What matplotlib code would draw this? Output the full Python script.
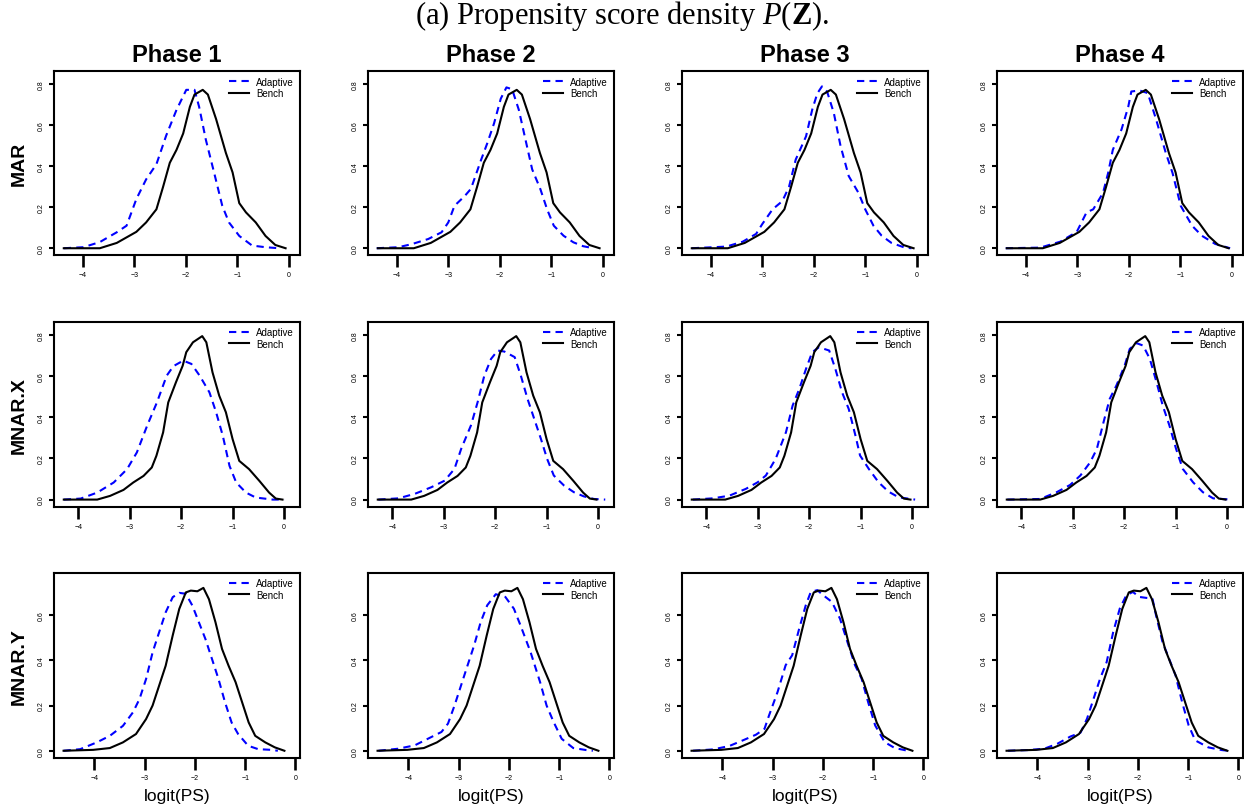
import matplotlib
matplotlib.use("Agg")
import matplotlib.pyplot as plt

plt.rcParams['font.family'] = ['Liberation Sans', 'DejaVu Sans']
plt.rcParams['mathtext.fontset'] = 'custom'
plt.rcParams['mathtext.rm'] = 'Liberation Serif'
plt.rcParams['mathtext.it'] = 'Liberation Serif:italic'
plt.rcParams['mathtext.bf'] = 'Liberation Serif:bold'

phases = ["Phase 1", "Phase 2", "Phase 3", "Phase 4"]
rows = ["MAR", "MNAR.X", "MNAR.Y"]

# Bench densities (same in every phase of a row)
bench_mar_x = [-4.37, -3.67, -3.34, -3.15, -2.96, -2.77, -2.57, -2.44, -2.31, -2.18, -2.05, -1.92,
               -1.83, -1.67, -1.57, -1.41, -1.22, -1.09, -0.96, -0.83, -0.64, -0.45, -0.26, -0.06]
bench_mar_y = [0.0, 0.0, 0.026, 0.053, 0.08, 0.126, 0.19, 0.30, 0.417, 0.48, 0.56, 0.69,
               0.75, 0.773, 0.75, 0.63, 0.465, 0.37, 0.22, 0.175, 0.126, 0.06, 0.016, 0.0]

bench_mnx_x = [-4.28, -3.63, -3.38, -3.12, -2.93, -2.73, -2.57, -2.48, -2.35, -2.25, -2.10, -1.97, -1.90,
               -1.77, -1.59, -1.51, -1.39, -1.26, -1.13, -1.0, -0.87, -0.68, -0.48, -0.29, -0.16, -0.03]
bench_mnx_y = [0.0, 0.0, 0.018, 0.047, 0.083, 0.115, 0.156, 0.213, 0.326, 0.472, 0.57, 0.65, 0.716,
               0.764, 0.794, 0.764, 0.618, 0.505, 0.424, 0.294, 0.188, 0.148, 0.091, 0.034, 0.005, 0.0]

bench_mny_x = [-4.61, -4.02, -3.69, -3.43, -3.17, -2.97, -2.84, -2.71, -2.58, -2.44, -2.31, -2.18, -2.08,
               -1.95, -1.83, -1.72, -1.59, -1.46, -1.33, -1.19, -1.06, -0.93, -0.80, -0.60, -0.41, -0.22]
bench_mny_y = [0.0, 0.004, 0.012, 0.037, 0.074, 0.14, 0.20, 0.288, 0.376, 0.51, 0.627, 0.70, 0.708,
               0.705, 0.72, 0.67, 0.568, 0.45, 0.376, 0.303, 0.214, 0.125, 0.066, 0.037, 0.015, 0.0]

# Adaptive densities, one list per phase
adapt_mar_x = [
    [-4.37, -3.99, -3.67, -3.34, -3.15, -2.96, -2.77, -2.57, -2.38, -2.18, -1.99, -1.83, -1.74,
     -1.61, -1.45, -1.29, -1.16, -0.96, -0.71, -0.45, -0.19],
    [-4.39, -3.97, -3.71, -3.39, -3.13, -3.0, -2.88, -2.68, -2.56, -2.36, -2.24, -2.11, -1.98,
     -1.87, -1.76, -1.63, -1.50, -1.37, -1.21, -1.08, -0.95, -0.76, -0.57, -0.38, -0.18],
    [-4.37, -3.70, -3.38, -3.12, -3.0, -2.80, -2.61, -2.48, -2.35, -2.15, -2.03, -1.93, -1.84,
     -1.74, -1.61, -1.48, -1.32, -1.13, -1.0, -0.84, -0.68, -0.49, -0.23, -0.10],
    [-4.39, -3.72, -3.33, -3.01, -2.82, -2.69, -2.50, -2.40, -2.31, -2.14, -2.01, -1.95, -1.79,
     -1.63, -1.47, -1.28, -1.15, -0.99, -0.77, -0.58, -0.32, -0.03],
]
adapt_mar_y = [
    [0.0, 0.005, 0.03, 0.078, 0.11, 0.24, 0.336, 0.41, 0.55, 0.675, 0.773, 0.773, 0.69,
     0.53, 0.37, 0.207, 0.126, 0.06, 0.013, 0.005, 0.0],
    [0.0, 0.005, 0.02, 0.045, 0.078, 0.126, 0.207, 0.255, 0.29, 0.433, 0.514, 0.61, 0.73,
     0.785, 0.776, 0.676, 0.53, 0.385, 0.288, 0.19, 0.11, 0.061, 0.029, 0.01, 0.0],
    [0.0, 0.008, 0.032, 0.07, 0.118, 0.19, 0.23, 0.30, 0.433, 0.546, 0.676, 0.756, 0.79,
     0.764, 0.66, 0.50, 0.352, 0.27, 0.19, 0.11, 0.061, 0.026, 0.003, 0.0],
    [0.0, 0.003, 0.032, 0.08, 0.175, 0.19, 0.27, 0.368, 0.48, 0.58, 0.69, 0.765, 0.77,
     0.757, 0.63, 0.465, 0.368, 0.207, 0.11, 0.061, 0.021, 0.0],
]

adapt_mnx_x = [
    [-4.28, -3.95, -3.63, -3.31, -3.05, -2.86, -2.66, -2.47, -2.28, -2.15, -1.96, -1.80, -1.64,
     -1.45, -1.32, -1.19, -1.06, -0.93, -0.74, -0.55, -0.22, 0.0],
    [-4.27, -3.88, -3.56, -3.24, -2.98, -2.79, -2.66, -2.47, -2.34, -2.21, -2.08, -1.95, -1.82,
     -1.62, -1.50, -1.37, -1.24, -1.11, -0.99, -0.86, -0.66, -0.47, -0.28, -0.08, 0.14],
    [-4.26, -3.87, -3.55, -3.23, -3.0, -2.84, -2.65, -2.45, -2.32, -2.19, -2.06, -1.94, -1.81,
     -1.61, -1.49, -1.36, -1.23, -1.10, -1.01, -0.84, -0.65, -0.46, -0.26, 0.06],
    [-4.27, -3.63, -3.31, -3.05, -2.85, -2.66, -2.53, -2.40, -2.28, -2.15, -1.99, -1.89, -1.76,
     -1.63, -1.50, -1.37, -1.25, -1.12, -0.99, -0.86, -0.66, -0.47, -0.27, 0.08],
]
adapt_mnx_y = [
    [0.0, 0.005, 0.034, 0.083, 0.148, 0.229, 0.359, 0.472, 0.602, 0.648, 0.675, 0.659, 0.602,
     0.521, 0.424, 0.31, 0.164, 0.083, 0.034, 0.01, 0.0, 0.0],
    [0.0, 0.006, 0.028, 0.06, 0.092, 0.149, 0.246, 0.36, 0.473, 0.602, 0.683, 0.724, 0.719,
     0.692, 0.602, 0.489, 0.392, 0.295, 0.198, 0.117, 0.068, 0.036, 0.016, 0.003, 0.0],
    [0.0, 0.006, 0.019, 0.052, 0.084, 0.117, 0.198, 0.327, 0.457, 0.538, 0.635, 0.716, 0.74,
     0.724, 0.635, 0.521, 0.44, 0.311, 0.214, 0.149, 0.084, 0.039, 0.011, 0.0],
    [0.0, 0.003, 0.036, 0.071, 0.117, 0.181, 0.246, 0.376, 0.489, 0.554, 0.651, 0.732, 0.76,
     0.748, 0.683, 0.57, 0.457, 0.36, 0.246, 0.149, 0.084, 0.036, 0.006, 0.0],
]

adapt_mny_x = [
    [-4.61, -4.28, -3.95, -3.69, -3.43, -3.23, -3.10, -2.97, -2.84, -2.71, -2.58, -2.44, -2.31,
     -2.18, -2.05, -1.92, -1.79, -1.66, -1.53, -1.40, -1.27, -1.14, -0.94, -0.74, -0.48, -0.35],
    [-4.59, -4.20, -3.87, -3.61, -3.34, -3.21, -3.08, -2.95, -2.82, -2.69, -2.56, -2.43, -2.26,
     -2.07, -1.90, -1.77, -1.57, -1.38, -1.25, -1.11, -0.95, -0.72, -0.46, -0.33],
    [-4.58, -4.18, -3.86, -3.59, -3.33, -3.16, -3.07, -2.90, -2.74, -2.61, -2.47, -2.34, -2.24,
     -2.11, -1.99, -1.82, -1.66, -1.49, -1.36, -1.23, -1.10, -0.96, -0.77, -0.57, -0.31],
    [-4.58, -4.19, -3.86, -3.60, -3.34, -3.14, -3.01, -2.88, -2.75, -2.62, -2.49, -2.36, -2.23,
     -2.10, -1.97, -1.84, -1.71, -1.64, -1.51, -1.38, -1.25, -1.12, -0.99, -0.86, -0.60, -0.33, -0.20],
]
adapt_mny_y = [
    [0.0, 0.007, 0.037, 0.066, 0.11, 0.17, 0.229, 0.317, 0.435, 0.524, 0.612, 0.679, 0.698,
     0.694, 0.642, 0.568, 0.494, 0.406, 0.317, 0.214, 0.125, 0.074, 0.022, 0.007, 0.004, 0.0],
    [0.0, 0.009, 0.024, 0.053, 0.083, 0.12, 0.20, 0.289, 0.378, 0.466, 0.569, 0.643, 0.692,
     0.68, 0.628, 0.555, 0.437, 0.304, 0.20, 0.127, 0.053, 0.012, 0.003, 0.0],
    [0.0, 0.006, 0.021, 0.046, 0.071, 0.097, 0.156, 0.26, 0.378, 0.422, 0.54, 0.643, 0.702,
     0.71, 0.687, 0.658, 0.584, 0.466, 0.378, 0.319, 0.215, 0.112, 0.038, 0.012, 0.0],
    [0.0, 0.003, 0.009, 0.031, 0.063, 0.08, 0.142, 0.23, 0.319, 0.392, 0.525, 0.628, 0.687,
     0.702, 0.68, 0.676, 0.673, 0.60, 0.481, 0.407, 0.333, 0.215, 0.112, 0.046, 0.015, 0.003, 0.0],
]

bench_x = [bench_mar_x, bench_mnx_x, bench_mny_x]
bench_y = [bench_mar_y, bench_mnx_y, bench_mny_y]
adapt_x = [adapt_mar_x, adapt_mnx_x, adapt_mny_x]
adapt_y = [adapt_mar_y, adapt_mnx_y, adapt_mny_y]

xlims = [(-4.56, 0.22), (-4.47, 0.31), (-4.80, 0.09)]
ylims = [(-0.033, 0.865), (-0.036, 0.865), (-0.032, 0.788)]
yticks = [[0.0, 0.2, 0.4, 0.6, 0.8], [0.0, 0.2, 0.4, 0.6, 0.8], [0.0, 0.2, 0.4, 0.6]]

W, H = 1244, 812
fig = plt.figure(figsize=(W / 100, H / 100), dpi=100)

col_left = [54, 368, 682, 997]
box_w = 246
row_box = [(72, 256), (322.5, 508), (573.5, 759)]

for i in range(3):
    top, bot = row_box[i]
    for j in range(4):
        ax = fig.add_axes([col_left[j] / W, 1 - bot / H, box_w / W, (bot - top) / H])
        ax.plot(adapt_x[i][j], adapt_y[i][j], color="blue", lw=1.5, dashes=(3.5, 2.5), label="Adaptive")
        ax.plot(bench_x[i], bench_y[i], color="black", lw=1.5, label="Bench")
        ax.set_xlim(xlims[i])
        ax.set_ylim(ylims[i])
        ax.set_xticks([-4, -3, -2, -1, 0])
        ax.set_xticklabels(["\u22124", "\u22123", "\u22122", "\u22121", "0"])
        ax.set_yticks(yticks[i])
        ax.set_yticklabels(["%.1f" % v for v in yticks[i]], rotation=90, va="center")
        ax.tick_params(axis="x", length=8.8, width=1.9, pad=3, labelsize=5)
        ax.tick_params(axis="y", length=3.4, width=1.5, pad=3, labelsize=5)
        for s in ax.spines.values():
            s.set_linewidth(1.5)
        ax.legend(loc="upper right", frameon=False, fontsize=7, handlelength=2.0,
                  handletextpad=0.8, labelspacing=0.15, borderaxespad=0.3, borderpad=0.3)
        if i == 0:
            fig.text((col_left[j] + box_w / 2) / W, 1 - 55 / H, phases[j],
                     ha="center", va="center", fontsize=17, fontweight="bold")
        if i == 2:
            fig.text((col_left[j] + box_w / 2) / W, 1 - 797 / H, "logit(PS)",
                     ha="center", va="center", fontsize=12.5)
    fig.text(19.5 / W, 1 - (top + bot) / 2 / H, rows[i], rotation=90,
             ha="center", va="center", fontsize=14, fontweight="bold")

fig.text(0.5, 1 - 16 / H, r"(a) Propensity score density $P(\mathbf{Z})$.",
         ha="center", va="center", fontsize=22, family="Liberation Serif")

fig.savefig("out.png", dpi=100)
